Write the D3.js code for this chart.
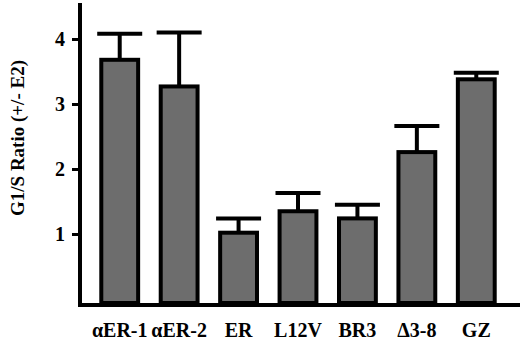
<!DOCTYPE html>
<html lang="en">
<head>
    <meta charset="UTF-8">
    <title>G1/S Ratio</title>
    <script src="https://cdn.jsdelivr.net/npm/d3@7"></script>
    <style>
        body { margin: 0; background: #fff; }
        svg text { font-family: "Liberation Serif", "Times New Roman", serif; font-weight: bold; fill: #000; }
    </style>
</head>
<body>
<script>
    // data
    var categories = ["\u03b1ER-1", "\u03b1ER-2", "ER", "L12V", "BR3", "\u03943-8", "GZ"]
    var ratios = [3.68, 3.27, 1.02, 1.35, 1.24, 2.26, 3.38]
    var errTops = [4.08, 4.10, 1.24, 1.63, 1.45, 2.66, 3.48]
    var yTicks = [1, 2, 3, 4]

    var width = 520,
        height = 346

    var svg = d3.select("body")
        .append("svg")
        .attr("width", width)
        .attr("height", height)

    var x = d3.scaleBand()
        .domain(categories)
        .range([90, 506])
        .paddingInner(0.38)
        .paddingOuter(0.19)

    var y = d3.scaleLinear()
        .domain([0, 4])
        .range([299, 39])

    var baseY = 303

    // bars
    svg.selectAll("rect.bar")
        .data(categories)
        .enter()
        .append("rect")
        .attr("class", "bar")
        .attr("x", function(d) { return x(d) })
        .attr("y", function(d, i) { return y(ratios[i]) })
        .attr("width", x.bandwidth())
        .attr("height", function(d, i) { return baseY - y(ratios[i]) })
        .attr("fill", "#6d6d6d")
        .attr("stroke", "#000")
        .attr("stroke-width", 4)

    // error bars (upper only)
    var capW = 45
    var err = svg.selectAll("g.err")
        .data(categories)
        .enter()
        .append("g")
        .attr("class", "err")

    err.append("line")
        .attr("x1", function(d) { return x(d) + x.bandwidth() / 2 })
        .attr("x2", function(d) { return x(d) + x.bandwidth() / 2 })
        .attr("y1", function(d, i) { return y(ratios[i]) })
        .attr("y2", function(d, i) { return y(errTops[i]) })
        .attr("stroke", "#000")
        .attr("stroke-width", 4)

    err.append("line")
        .attr("x1", function(d) { return x(d) + x.bandwidth() / 2 - capW / 2 })
        .attr("x2", function(d) { return x(d) + x.bandwidth() / 2 + capW / 2 })
        .attr("y1", function(d, i) { return y(errTops[i]) })
        .attr("y2", function(d, i) { return y(errTops[i]) })
        .attr("stroke", "#000")
        .attr("stroke-width", 4)

    // y axis
    var yAxis = d3.axisLeft(y)
        .tickValues(yTicks)
        .tickFormat(d3.format("d"))
        .tickSize(8)
        .tickPadding(7)

    var gy = svg.append("g")
        .attr("transform", "translate(80,0)")
        .call(yAxis)
        .attr("font-family", null)
        .attr("font-size", null)
    gy.select(".domain").remove()
    gy.selectAll(".tick line").attr("stroke", "#000").attr("stroke-width", 3)
    gy.selectAll(".tick text").attr("font-size", 20)

    svg.append("line")
        .attr("x1", 80).attr("x2", 80)
        .attr("y1", 3).attr("y2", 307)
        .attr("stroke", "#000")
        .attr("stroke-width", 4)

    // baseline
    svg.append("line")
        .attr("x1", 78).attr("x2", width)
        .attr("y1", 305).attr("y2", 305)
        .attr("stroke", "#000")
        .attr("stroke-width", 4)

    // category labels
    svg.selectAll("text.cat")
        .data(categories)
        .enter()
        .append("text")
        .attr("class", "cat")
        .attr("x", function(d) { return x(d) + x.bandwidth() / 2 })
        .attr("y", 337)
        .attr("text-anchor", "middle")
        .attr("font-size", 20)
        .text(function(d) { return d })

    // y label
    svg.append("text")
        .attr("transform", "translate(24,138) rotate(-90)")
        .attr("text-anchor", "middle")
        .attr("font-size", 19)
        .text("G1/S Ratio (+/- E2)")
</script>
</body>
</html>
